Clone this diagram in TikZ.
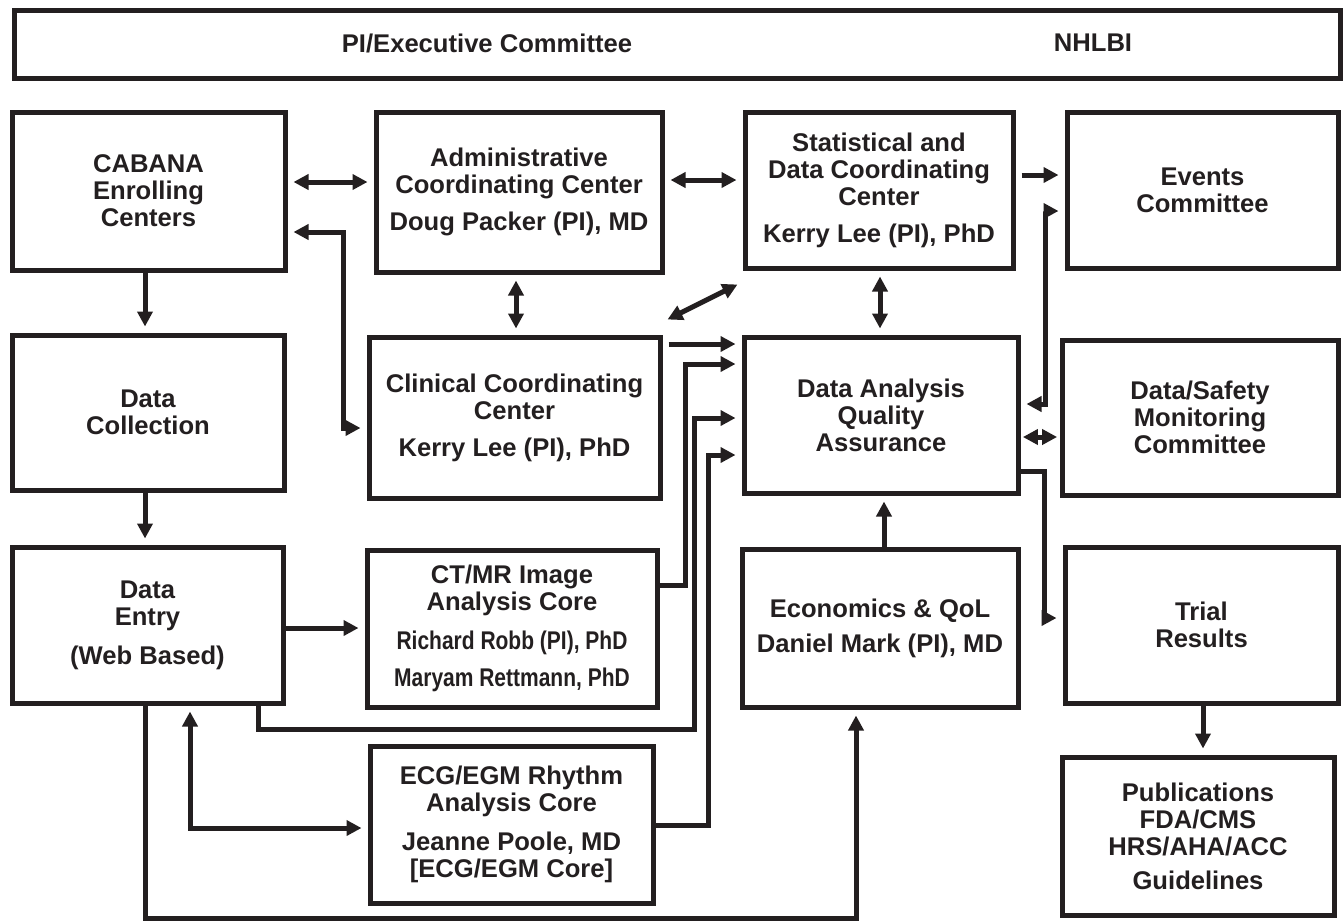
\documentclass[tikz,border=0pt]{standalone}
\usepackage{fontspec}
\setmainfont{Liberation Sans}
\usepackage{graphicx}
\usepackage{tikz}
\usetikzlibrary{arrows.meta}
\definecolor{ink}{HTML}{231F20}
\newcommand{\slim}[1]{\scalebox{0.82}[1]{#1}}
\tikzset{
	unit/.style={
		draw=ink,
		line width=2.5pt,
		align=center,
		inner sep=0pt
	},
	link/.style={
		draw=ink,
		line width=2.5pt,
		-{Triangle[length=7.5pt,width=7.5pt]},
		shorten >=3pt
	},
	dlink/.style={
		link,
		{Triangle[length=7.5pt,width=7.5pt]}-{Triangle[length=7.5pt,width=7.5pt]},
		shorten <=3pt
	},
	gap/.style={shorten <=3pt}
}

\begin{document}
\begin{tikzpicture}[x=0.5pt, y=-0.5pt, text=ink, font=\fontsize{12.8}{13.5}\selectfont\bfseries]
			\useasboundingbox (0,0) rectangle (1344,922);
			% top bar
			\node [unit, minimum width=663pt, minimum height=34pt] (exec) at (677,44) {};
			\node (pi) at (487,43) {PI/Executive Committee};
			\node (nhlbi) at (1093,43) {NHLBI};
			% first row
			\node [unit, minimum width=136.5pt, minimum height=79pt] (cabana) at (148.5,191) {CABANA\\Enrolling\\Centers};
			\node [unit, minimum width=143pt, minimum height=80pt] (admin) at (519,192) {Administrative\\Coordinating Center\\[5pt]Doug Packer (PI), MD};
			\node [unit, minimum width=134pt, minimum height=78pt] (stat) at (879,190) {Statistical and\\Data Coordinating\\Center\\[5pt]Kerry Lee (PI), PhD};
			\node [unit, minimum width=135.5pt, minimum height=78pt] (events) at (1202.5,190) {Events\\Committee};
			% second row
			\node [unit, minimum width=136pt, minimum height=77.5pt] (collect) at (148,412.5) {Data\\Collection};
			\node [unit, minimum width=145.5pt, minimum height=80.5pt] (clinical) at (514.5,417.5) {Clinical Coordinating\\Center\\[5pt]Kerry Lee (PI), PhD};
			\node [unit, minimum width=137pt, minimum height=78pt] (daqa) at (881,415) {Data Analysis\\Quality\\Assurance};
			\node [unit, minimum width=138pt, minimum height=77.5pt] (safety) at (1200,417.5) {Data/Safety\\Monitoring\\Committee};
			% third row
			\node [unit, minimum width=135.5pt, minimum height=78pt] (entry) at (147.5,625) {Data\\Entry\\[6pt](Web Based)};
			\node [unit, minimum width=145pt, minimum height=78.5pt] (ctmr) at (512,628.5) {CT/MR Image\\Analysis Core\\[6pt]\slim{Richard Robb (PI), PhD}\\[5pt]\slim{Maryam Rettmann, PhD}};
			\node [unit, minimum width=138pt, minimum height=79pt] (econ) at (880,628) {Economics \& QoL\\[4pt]Daniel Mark (PI), MD};
			\node [unit, minimum width=136.5pt, minimum height=78pt] (trial) at (1201.5,625) {Trial\\Results};
			% bottom row
			\node [unit, minimum width=141.5pt, minimum height=78.5pt] (ecg) at (511.5,824.5) {ECG/EGM Rhythm\\Analysis Core\\[6pt]Jeanne Poole, MD\\{[ECG/EGM Core]}};
			\node [unit, minimum width=136pt, minimum height=79pt] (pubs) at (1198,836) {Publications\\FDA/CMS\\HRS/AHA/ACC\\[3.5pt]Guidelines};
			% connectors
			\draw [dlink] (cabana.east |- 0,182) -- (admin.west |- 0,182);
			\draw [dlink] (cabana.east |- 0,232) -- (343,232) |- (clinical.west |- 0,428);
			\draw [dlink] (admin.east |- 0,180) -- (stat.west |- 0,180);
			\draw [link, gap] (stat.east |- 0,175) -- (events.west |- 0,175);
			\draw [dlink] (admin.south -| 516,0) -- (clinical.north -| 516,0);
			\draw [dlink, shorten <=0pt, shorten >=0pt] ([xshift=2.5pt, yshift=7.5pt]clinical.north east) -- ([xshift=-2.5pt, yshift=-7pt]stat.south west);
			\draw [dlink] (stat.south -| 880,0) -- (daqa.north -| 880,0);
			\draw [link, gap] (clinical.east |- 0,344) -- (daqa.west |- 0,344);
			\draw [link] (ctmr.east |- 0,585) -| (685,364) -- (daqa.west |- 0,364);
			\draw [link] (entry.south -| 258,0) |- (694,729) |- (daqa.west |- 0,418);
			\draw [link] (ecg.east |- 0,825) -| (708,455) -- (daqa.west |- 0,455);
			\draw [dlink] (entry.south -| 190,0) |- (ecg.west |- 0,828);
			\draw [link] (entry.south -| 145,0) |- (856,918) -- (econ.south -| 856,0);
			\draw [link] (econ.north -| 884,0) -- (daqa.south -| 884,0);
			\draw [dlink] (events.west |- 0,211) -| (1045,404) -- (daqa.east |- 0,404);
			\draw [dlink, shorten <=1.2pt, shorten >=1.2pt] (daqa.east |- 0,437) -- (safety.west |- 0,437);
			\draw [link] (daqa.east |- 0,471) -| (1044,618) -- (trial.west |- 0,618);
			\draw [link] (entry.east |- 0,628) -- (ctmr.west |- 0,628);
			\draw [link] (cabana.south -| 145,0) -- (collect.north -| 145,0);
			\draw [link] (collect.south -| 145,0) -- (entry.north -| 145,0);
			\draw [link] (trial.south -| 1203,0) -- (pubs.north -| 1203,0);
		\end{tikzpicture}
\end{document}
